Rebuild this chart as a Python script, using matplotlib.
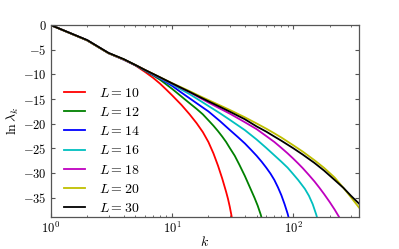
import math
import matplotlib
matplotlib.use('Agg')
import matplotlib.pyplot as plt
from matplotlib.ticker import FixedLocator, FuncFormatter, LogLocator, NullFormatter

plt.rcParams['mathtext.fontset'] = 'cm'
plt.rcParams['font.family'] = ['DejaVu Serif']

# values: k and ln(lambda_k) for each system size
k_L10 = [1, 2, 3, 4, 5, 6, 7, 8, 9, 10, 12, 14, 16, 18, 20, 22, 24, 26, 28, 29, 30, 31, 32]
v_L10 = [0, -3.1, -5.7, -7.0, -8.2, -9.5, -10.7, -11.9, -13.1, -14.2, -16.2, -18.1, -19.9,
         -21.7, -23.7, -26.0, -28.5, -31.1, -33.8, -35.2, -36.8, -38.6, -40.8]

k_L12 = [1, 2, 3, 4, 5, 6, 7, 8, 10, 12, 14, 16, 18, 20, 22, 24, 26, 28, 30, 33, 36, 40,
         44, 48, 51, 54, 56]
v_L12 = [0, -3.1, -5.7, -7.0, -8.15, -9.25, -10.2, -11.1, -12.9, -14.5, -15.85, -17.0,
         -18.1, -19.3, -20.4, -21.5, -22.6, -23.7, -24.9, -26.5, -28.3, -30.6, -32.9,
         -35.0, -36.6, -38.4, -39.8]

k_L14 = [1, 2, 3, 4, 5, 6, 7, 8, 10, 12, 14, 17, 20, 25, 30, 35, 40, 45, 50, 55, 60, 65,
         70, 75, 80, 85, 90, 94]
v_L14 = [0, -3.1, -5.7, -7.0, -8.15, -9.2, -10.1, -10.85, -12.3, -13.7, -14.85, -16.3,
         -17.5, -19.5, -21.25, -22.7, -24.0, -25.3, -26.5, -27.7, -28.9, -30.1, -31.4,
         -32.9, -34.5, -36.3, -38.2, -40.0]

k_L16 = [1, 2, 3, 4, 5, 6, 7, 8, 10, 12, 14, 17, 20, 25, 30, 40, 50, 60, 70, 80, 90, 100,
         110, 125, 135, 145, 155, 160]
v_L16 = [0, -3.1, -5.7, -7.0, -8.1, -9.15, -10.0, -10.75, -12.0, -13.1, -14.0, -15.3,
         -16.4, -17.9, -19.2, -21.3, -23.2, -24.9, -26.4, -27.7, -28.9, -30.2, -31.4,
         -33.2, -34.6, -36.3, -38.4, -39.6]

k_L18 = [1, 2, 3, 4, 5, 6, 7, 8, 10, 12, 14, 17, 20, 25, 30, 40, 50, 60, 70, 80, 90, 100,
         110, 120, 135, 150, 165, 180, 200, 220, 240, 260]
v_L18 = [0, -3.1, -5.7, -7.0, -8.1, -9.1, -9.95, -10.65, -11.85, -12.8, -13.6, -14.75,
         -15.7, -16.95, -17.95, -19.7, -21.1, -22.5, -23.7, -24.9, -26.0, -27.05, -28.05,
         -29.0, -30.4, -31.7, -33.0, -34.25, -35.85, -37.4, -38.95, -40.5]

k_L20 = [1, 2, 3, 4, 5, 6, 7, 8, 10, 12, 14, 17, 20, 25, 30, 40, 50, 60, 70, 80, 100,
         120, 150, 180, 220, 260, 300, 350]
v_L20 = [0, -3.1, -5.7, -6.95, -8.1, -9.1, -9.9, -10.6, -11.75, -12.65, -13.4, -14.4,
         -15.2, -16.3, -17.2, -18.7, -19.95, -21.0, -21.95, -22.8, -24.35, -25.65, -27.4,
         -28.95, -30.9, -33.0, -34.9, -37.0]

k_L30 = [1, 2, 3, 4, 5, 6, 7, 8, 10, 12, 14, 17, 20, 25, 30, 40, 50, 60, 70, 80, 100,
         120, 150, 180, 220, 260, 300, 350]
v_L30 = [0, -3.05, -5.65, -6.9, -8.1, -9.1, -9.9, -10.6, -11.8, -12.75, -13.55, -14.6,
         -15.45, -16.6, -17.55, -19.1, -20.55, -21.6, -22.6, -23.45, -24.95, -26.25,
         -27.95, -29.5, -31.4, -33.0, -34.6, -36.2]

sizes = [10, 12, 14, 16, 18, 20, 30]
ks = [k_L10, k_L12, k_L14, k_L16, k_L18, k_L20, k_L30]
vals = [v_L10, v_L12, v_L14, v_L16, v_L18, v_L20, v_L30]
colors = ['#ff0000', '#008000', '#0000ff', '#00bfbf', '#bf00bf', '#bfbf00', '#000000']

fig = plt.figure(figsize=(3.99, 2.49), dpi=100)
ax = fig.add_axes([0.127, 0.1285, 0.773, 0.771])

for L, k, v, c in zip(sizes, ks, vals, colors):
    ax.plot(k, v, color=c, lw=1.3, label=r'$L=%d$' % L)

ax.set_xscale('log')
ax.set_xlim(1, 350)
ax.set_ylim(-38.9, 0)

ax.xaxis.set_major_locator(FixedLocator([1, 10, 100]))
ax.xaxis.set_major_formatter(FuncFormatter(lambda x, p: r'$10^{%d}$' % round(math.log10(x))))
ax.xaxis.set_minor_locator(LogLocator(base=10, subs=range(2, 10)))
ax.xaxis.set_minor_formatter(NullFormatter())
ax.yaxis.set_major_locator(FixedLocator([0, -5, -10, -15, -20, -25, -30, -35]))
ax.yaxis.set_major_formatter(FuncFormatter(lambda y, p: r'$0$' if y == 0 else r'$-%d$' % abs(y)))

ax.tick_params(which='both', direction='in', top=True, right=True, labelsize=9, pad=3,
               color='#555555')
ax.tick_params(which='major', length=3)
ax.tick_params(which='minor', length=1.6)
for s in ax.spines.values():
    s.set_color('#555555')
    s.set_linewidth(0.9)

ax.set_xlabel(r'$k$', fontsize=10, labelpad=-1)
ax.set_ylabel(r'$\ln\lambda_k$', fontsize=10, labelpad=1)

ax.legend(loc='lower left', frameon=False, fontsize=10, handlelength=1.5,
          handletextpad=1.0, labelspacing=0.38, borderaxespad=0,
          bbox_to_anchor=(0.025, -0.02))

fig.savefig('out.png', dpi=100)
